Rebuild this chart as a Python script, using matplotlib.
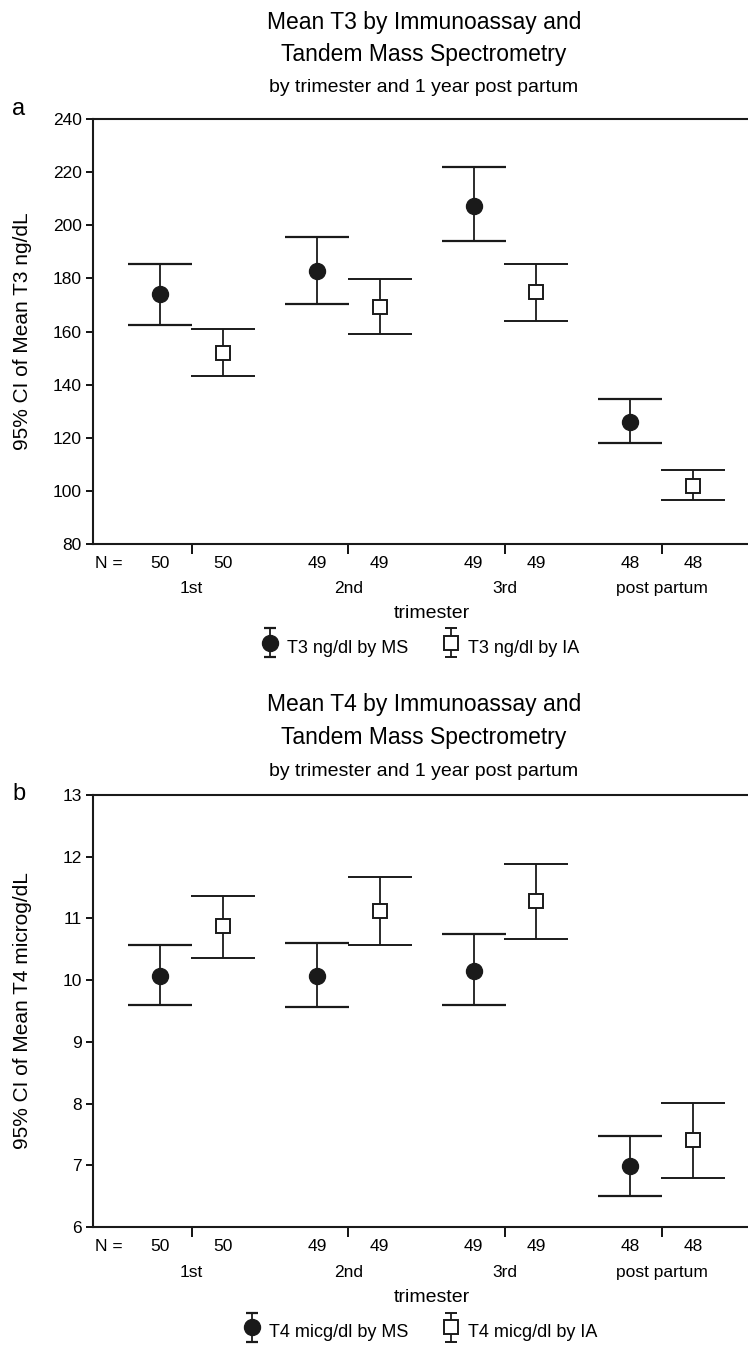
import matplotlib
matplotlib.use("Agg")
import matplotlib.pyplot as plt
import matplotlib.transforms as mtransforms
from matplotlib.container import ErrorbarContainer
from matplotlib.legend_handler import HandlerErrorbar

# --- data -------------------------------------------------------------
groups = ["1st", "2nd", "3rd", "post partum"]
n_ms = [50, 49, 49, 48]
n_ia = [50, 49, 49, 48]

t3_ms_mean = [174.1, 182.8, 207.3, 125.8]
t3_ms_lo = [162.3, 170.2, 194.0, 118.0]
t3_ms_hi = [185.3, 195.7, 221.8, 134.5]
t3_ia_mean = [152.0, 169.3, 175.0, 102.0]
t3_ia_lo = [143.3, 159.1, 163.9, 96.5]
t3_ia_hi = [160.8, 179.8, 185.3, 107.7]

t4_ms_mean = [10.07, 10.07, 10.15, 6.99]
t4_ms_lo = [9.60, 9.56, 9.60, 6.51]
t4_ms_hi = [10.57, 10.60, 10.74, 7.48]
t4_ia_mean = [10.88, 11.12, 11.29, 7.41]
t4_ia_lo = [10.36, 10.57, 10.67, 6.79]
t4_ia_hi = [11.36, 11.67, 11.88, 8.01]

plt.rcParams["font.family"] = ["Liberation Sans", "DejaVu Sans"]

DX = 0.2
INK = "#1a1a1a"
MS_STYLE = dict(marker="o", markersize=11.5, markerfacecolor=INK, markeredgecolor=INK)
IA_STYLE = dict(marker="s", markersize=9.5, markerfacecolor="white", markeredgecolor=INK,
                markeredgewidth=1.4)


def yerr(mean, lo, hi):
    return [[m - l for m, l in zip(mean, lo)], [h - m for m, h in zip(mean, hi)]]


def panel(ax, ms, ia, ylim, yticks, ylabel, leg_ms, leg_ia):
    x = list(range(len(groups)))
    xm = [v - DX for v in x]
    xi = [v + DX for v in x]
    ekw = dict(ecolor=INK, elinewidth=1.3, capsize=23, capthick=1.6, linestyle="none")
    ax.errorbar(xm, ms[0], yerr=yerr(*ms), **MS_STYLE, **ekw)
    ax.errorbar(xi, ia[0], yerr=yerr(*ia), **IA_STYLE, **ekw)

    # legend proxies with short caps
    lkw = dict(ecolor=INK, elinewidth=1.3, capsize=4.3, capthick=1.6, linestyle="none")
    p1 = ax.errorbar([float("nan")], [float("nan")], yerr=[1], **MS_STYLE, **lkw)
    p2 = ax.errorbar([float("nan")], [float("nan")], yerr=[1], **IA_STYLE, **lkw)

    ax.set_xlim(-0.63, 3.55)
    ax.set_ylim(*ylim)
    ax.set_yticks(yticks)
    ax.set_yticklabels([str(t) for t in yticks], fontsize=12.5)
    # lowest label sits a little above its tick
    off = mtransforms.ScaledTranslation(0, 6 / 72, ax.figure.dpi_scale_trans)
    lab0 = ax.get_yticklabels()[0]
    lab0.set_transform(lab0.get_transform() + off)
    ax.set_xticks(x)
    ax.set_xticklabels([])
    ax.tick_params(axis="y", length=5, width=1.3, direction="out", pad=3)
    ax.tick_params(axis="x", length=7, width=1.3, direction="out")
    for s in ["left", "bottom", "top"]:
        ax.spines[s].set_linewidth(1.5)
        ax.spines[s].set_color(INK)
    ax.spines["right"].set_visible(False)
    ax.set_ylabel(ylabel, fontsize=15)
    ax.yaxis.set_label_coords(-0.093, 0.5)

    trans = mtransforms.blended_transform_factory(ax.transData, ax.transAxes)
    ax.text(-0.62, -0.045, "N =", transform=trans, ha="left", va="center", fontsize=12.5)
    for i in range(len(groups)):
        ax.text(xm[i], -0.045, str(n_ms[i]), transform=trans, ha="center", va="center", fontsize=12.5)
        ax.text(xi[i], -0.045, str(n_ia[i]), transform=trans, ha="center", va="center", fontsize=12.5)
        ax.text(x[i], -0.105, groups[i], transform=trans, ha="center", va="center", fontsize=12.5)
    ax.text(1.53, -0.163, "trimester", transform=trans, ha="center", va="center", fontsize=14)
    ax.legend([p1, p2], [leg_ms, leg_ia], loc="center", bbox_to_anchor=(0.5, -0.242),
              ncol=2, frameon=False, fontsize=13, handlelength=0.9, handleheight=2.0,
              handletextpad=0.5, columnspacing=1.9,
              handler_map={ErrorbarContainer: HandlerErrorbar(yerr_size=0.8)})


fig = plt.figure(figsize=(7.48, 13.45), dpi=100)

ax_a = fig.add_axes([93 / 748, 1 - 544 / 1345, 1 - 93 / 748, (544 - 119) / 1345])
panel(ax_a, (t3_ms_mean, t3_ms_lo, t3_ms_hi), (t3_ia_mean, t3_ia_lo, t3_ia_hi),
      (80, 240), list(range(80, 241, 20)), "95% CI of Mean T3 ng/dL",
      "T3 ng/dl by MS", "T3 ng/dl by IA")

ax_b = fig.add_axes([93 / 748, 1 - 1227 / 1345, 1 - 93 / 748, (1227 - 795) / 1345])
panel(ax_b, (t4_ms_mean, t4_ms_lo, t4_ms_hi), (t4_ia_mean, t4_ia_lo, t4_ia_hi),
      (6, 13), list(range(6, 14)), "95% CI of Mean T4 microg/dL",
      "T4 micg/dl by MS", "T4 micg/dl by IA")


# titles and panel letters, placed in figure pixels
def ftext(xp, yp, s, **kw):
    fig.text(xp / 748, 1 - yp / 1345, s, ha="center", va="center", **kw)


ftext(424, 23, "Mean T3 by Immunoassay and", fontsize=16.5)
ftext(424, 55, "Tandem Mass Spectrometry", fontsize=16.5)
ftext(424, 88, "by trimester and 1 year post partum", fontsize=14)
ftext(19, 109, "a", fontsize=17)

ftext(424, 705, "Mean T4 by Immunoassay and", fontsize=16.5)
ftext(424, 738, "Tandem Mass Spectrometry", fontsize=16.5)
ftext(424, 771, "by trimester and 1 year post partum", fontsize=14)
ftext(19, 794, "b", fontsize=17)

fig.savefig("out.png", dpi=100)
